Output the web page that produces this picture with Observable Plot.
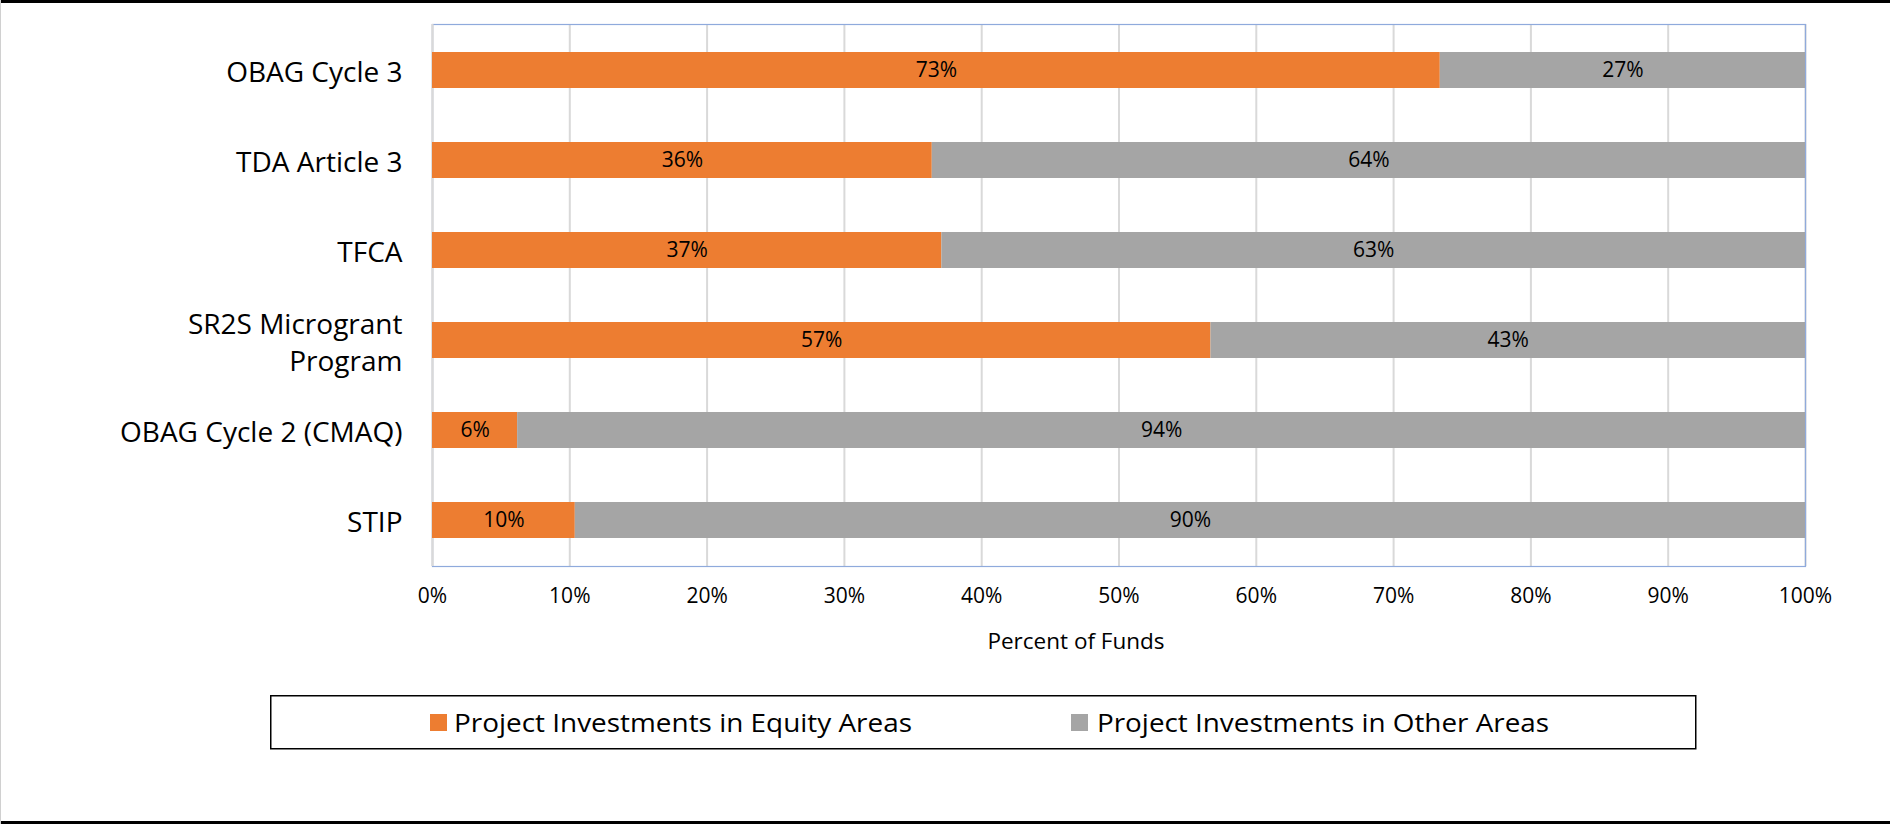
<!DOCTYPE html>
<html><head><meta charset="utf-8">
<script src="https://cdn.jsdelivr.net/npm/d3@7"></script>
<script src="https://cdn.jsdelivr.net/npm/@observablehq/plot@0.6"></script>
<style>
body{margin:0;background:#fff;font-family:"Open Sans",sans-serif;}
#wrap{position:relative;width:1890px;height:824px;overflow:hidden;background:#fff;}
#wrap svg{display:block;}
.b{position:absolute;}
</style></head><body>
<div id="wrap"></div>
<script>
const categories = ["OBAG Cycle 3","TDA Article 3","TFCA","SR2S Microgrant Program","OBAG Cycle 2 (CMAQ)","STIP"];
const tickLabels = ["OBAG Cycle 3","TDA Article 3","TFCA","SR2S Microgrant\nProgram","OBAG Cycle 2 (CMAQ)","STIP"];
const series = ["Project Investments in Equity Areas","Project Investments in Other Areas"];
const equity = [73.4, 36.4, 37.1, 56.7, 6.2, 10.4];
const other  = [26.6, 63.6, 62.9, 43.3, 93.8, 89.6];
const xTicks = [0,10,20,30,40,50,60,70,80,90,100];
const colors = ["#ED7D31","#A5A5A5"];
const axisTitle = "Percent of Funds";

const rows = categories.flatMap((c,i)=>[
  {cat:c, series:series[0], value:equity[i]},
  {cat:c, series:series[1], value:other[i]}
]);
const labelOf = new Map(categories.map((c,i)=>[c,tickLabels[i]]));
const FONT = '"Open Sans", sans-serif';

const chart = Plot.plot({
  width:1890, height:680, marginLeft:432, marginRight:85, marginTop:24, marginBottom:114,
  style:{fontFamily:FONT, color:"#000", background:"transparent", overflow:"visible"},
  x:{domain:[0,100], ticks:xTicks},
  y:{domain:categories, paddingInner:0.6, paddingOuter:0.3},
  color:{domain:series, range:colors},
  marks:[
    Plot.ruleX(xTicks,{stroke:"#d9d9d9", strokeWidth:2}),
    Plot.frame({stroke:"#8faadc", strokeWidth:1.2}),
    Plot.ruleX([0],{stroke:"#d9d9d9", strokeWidth:2}),
    Plot.barX(rows,{x:"value", y:"cat", fill:"series"}),
    Plot.text(rows, Plot.stackX({x:"value", y:"cat", z:"series", text:d=>Math.round(d.value)+"%", fontSize:21, fill:"#000"})),
    Plot.axisX({ticks:xTicks, tickFormat:d=>d+"%", tickSize:0, tickPadding:22, fontSize:21, label:null}),
    Plot.axisY({tickSize:0, tickPadding:30, fontSize:28, lineHeight:1.32, tickFormat:d=>labelOf.get(d), label:null}),
    Plot.text([axisTitle], {frameAnchor:"bottom", dy:82, dx:-43, fontSize:22.5, fill:"#000"})
  ]
});
const wrap = document.getElementById("wrap");
wrap.appendChild(chart);

// legend below the chart (svg origin at page y=680)
const leg = d3.create("svg").attr("width",1890).attr("height",144).style("font-family",FONT).style("display","block");
leg.append("rect").attr("x",270.75).attr("y",15.75).attr("width",1425).attr("height",53)
  .attr("fill","none").attr("stroke","#000").attr("stroke-width",1.5);
const items = [{sx:430, tx:454, len:458},{sx:1071, tx:1097, len:452}];
series.forEach((s,i)=>{
  const it = items[i];
  leg.append("rect").attr("x",it.sx).attr("y",34).attr("width",17).attr("height",17).attr("fill",colors[i]);
  leg.append("text").attr("x",it.tx).attr("y",52).attr("font-size",26).attr("fill","#000")
    .attr("textLength",it.len).attr("lengthAdjust","spacingAndGlyphs").text(s);
});
wrap.appendChild(leg.node());

// page frame
[["top:0;left:0;width:1890px;height:3px;background:#000"],
 ["top:821px;left:0;width:1890px;height:3px;background:#000"],
 ["top:0;left:0;width:1px;height:824px;background:#d0d0d0"]].forEach(([css])=>{
  const d=document.createElement("div"); d.className="b"; d.style.cssText=css; wrap.appendChild(d);
});
</script>
</body></html>
